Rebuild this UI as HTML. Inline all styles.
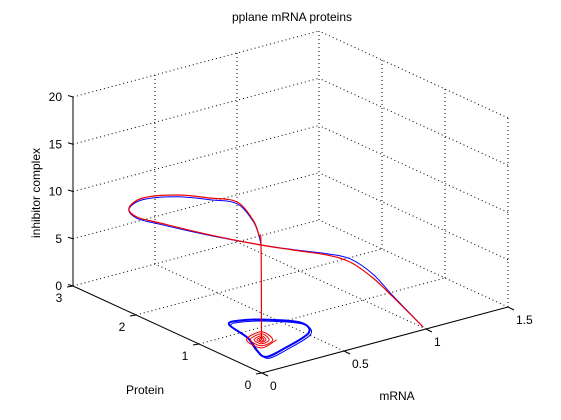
<!DOCTYPE html>
<html><head><meta charset="utf-8"><style>
body{margin:0;background:#fff;}
svg{display:block;font-family:"Liberation Sans",sans-serif;}
</style></head><body>
<svg id="chart" width="561" height="420" viewBox="0 0 561 420">
<rect width="561" height="420" fill="#fff"/>
<g id="grid"></g>
<g id="axes"></g>
<g id="series"></g>
<text x="292" y="21" font-size="12" text-anchor="middle">pplane mRNA proteins</text>
<text transform="translate(40,193) rotate(-90)" font-size="12" text-anchor="middle">inhibitor complex</text>
<text x="145" y="394" font-size="12" text-anchor="middle">Protein</text>
<text x="397" y="400" font-size="12" text-anchor="middle">mRNA</text>
</svg>
<script>
const mTicks=[0,0.5,1,1.5];
const mTickLabels=["0","0.5","1","1.5"];
const pTicks=[0,1,2,3];
const pTickLabels=["0","1","2","3"];
const zTicks=[0,5,10,15,20];
const zTickLabels=["0","5","10","15","20"];
// limit cycle (blue) on floor
const cycleM=[0.278,0.349,0.4725,0.571,0.516,0.300,0.150,0.172,0.239,0.278];
const cycleP=[1.246,1.277,1.122,0.867,0.602,0.411,0.327,0.538,0.853,1.246];
// red spiral on floor
const spiralM=[0.334,0.209,0.218,0.343,0.319,0.226,0.233,0.326,0.305,0.243,0.247,0.310,0.293,0.256,0.259,0.296,0.285,0.266,0.267,0.286,0.276];
const spiralP=[0.638,0.550,0.814,0.902,0.660,0.594,0.792,0.858,0.682,0.638,0.770,0.814,0.699,0.673,0.753,0.779,0.713,0.700,0.739,0.752,0.726];
// main trajectory (red)
const pathM=[0.276,0.273,0.260,0.224,0.126,-0.040,-0.240,-0.447,-0.532,-0.484,-0.343,-0.038,0.273,0.468,0.675,0.815,0.956,1.078,1.261];
const pathZ=[0,10.05,11.16,12.92,15.29,16.48,17.73,18.37,17.71,16.53,15.24,12.56,10.05,8.61,7.12,5.72,3.37,0.79,-3.23];
const pathP=0.726;
// blue trajectory (slightly different)
const bluePathZ=[0,10.05,11.1,12.8,15.1,16.3,17.55,18.2,17.6,16.4,15.1,12.5,10.05,8.65,7.25,6.07,3.77,0.9,-3.23];

const NS="http://www.w3.org/2000/svg";
function X(m,p,z){return 262+m*164-p*63;}
function Y(m,p,z){return 373-m*44-p*29-z*9.45;}
function mk(tag,attrs,parent){const e=document.createElementNS(NS,tag);for(const k in attrs)e.setAttribute(k,attrs[k]);parent.appendChild(e);return e;}
const grid=document.getElementById('grid'),axes=document.getElementById('axes'),series=document.getElementById('series');
function ln(a,b,parent,dotted,name){
 const e=mk('line',{x1:X(...a),y1:Y(...a),x2:X(...b),y2:Y(...b),stroke:'#000','stroke-width':1,'stroke-dasharray':dotted?'1,3':'none'},parent);
 
 
}
const mMax=1.5,pMax=3,zMax=20;
mTicks.forEach(m=>{if(m>0)ln([m,0,0],[m,pMax,0],grid,true,'floor-gridline-m');});
pTicks.forEach(p=>{if(p>0)ln([0,p,0],[mMax,p,0],grid,true,'floor-gridline-p');});
mTicks.forEach(m=>{if(m>0)ln([m,pMax,0],[m,pMax,zMax],grid,true,'back-wall-vertical');});
zTicks.forEach(z=>{if(z>0)ln([0,pMax,z],[mMax,pMax,z],grid,true,'back-wall-horizontal');});
pTicks.forEach(p=>{if(p<pMax)ln([mMax,p,0],[mMax,p,zMax],grid,true,'side-wall-vertical');});
zTicks.forEach(z=>{if(z>0)ln([mMax,0,z],[mMax,pMax,z],grid,true,'side-wall-horizontal');});
ln([0,0,0],[mMax,0,0],axes,false,'mrna-axis');
ln([0,0,0],[0,pMax,0],axes,false,'protein-axis');
ln([0,pMax,0],[0,pMax,zMax],axes,false,'z-axis');
function txt(x,y,s,anchor,name){const t=mk('text',{x:x,y:y,'font-size':12,'text-anchor':anchor},axes);t.textContent=s;
 
 }
mTicks.forEach((m,i)=>{
 const x=X(m,0,0),y=Y(m,0,0);
 mk('line',{x1:x,y1:y,x2:x+6,y2:y+3,stroke:'#000'},axes);
 txt(x+8,y+17,mTickLabels[i],'start','mrna-tick-label');
});
pTicks.forEach((p,i)=>{
 const x=X(0,p,0),y=Y(0,p,0);
 mk('line',{x1:x,y1:y,x2:x-6,y2:y+1,stroke:'#000'},axes);
 txt(x-14,y+16,pTickLabels[i],'middle','protein-tick-label');
});
zTicks.forEach((z,i)=>{
 const x=X(0,pMax,z),y=Y(0,pMax,z);
 mk('line',{x1:x,y1:y,x2:x-5,y2:y-1.5,stroke:'#000'},axes);
 txt(x-11,y+4,zTickLabels[i],'end','z-tick-label');
});
function smooth(pts,closed){
 let d='M'+pts[0][0].toFixed(1)+','+pts[0][1].toFixed(1);
 const n=pts.length;
 for(let i=0;i<n-1;i++){
  const p0=pts[i>0?i-1:(closed?n-2:0)],p1=pts[i],p2=pts[i+1],p3=pts[i+2<n?i+2:(closed?1:n-1)];
  const c1=[p1[0]+(p2[0]-p0[0])/6,p1[1]+(p2[1]-p0[1])/6],c2=[p2[0]-(p3[0]-p1[0])/6,p2[1]-(p3[1]-p1[1])/6];
  d+=' C'+c1[0].toFixed(1)+','+c1[1].toFixed(1)+' '+c2[0].toFixed(1)+','+c2[1].toFixed(1)+' '+p2[0].toFixed(1)+','+p2[1].toFixed(1);
 }
 return d;
}
function drawPath(pts,color,w,closed,name){
 const e=mk('path',{d:smooth(pts,closed),fill:'none',stroke:color,'stroke-width':w,'stroke-linejoin':'round'},series);
 
 
}
const cyc=cycleM.map((m,i)=>[X(m,cycleP[i],0),Y(m,cycleP[i],0)]);
drawPath(cyc,'#0000ff',2,true,'blue-limit-cycle');
drawPath(cyc.map(p=>[p[0]+2,p[1]+1.5]),'#0000ff',1,true,'blue-limit-cycle-inner');
drawPath(pathM.slice(1).map((m,i)=>[X(m,pathP,bluePathZ[i+1]),Y(m,pathP,bluePathZ[i+1])]),'#0000ff',1,false,'blue-trajectory');
drawPath(pathM.map((m,i)=>[X(m,pathP,pathZ[i]),Y(m,pathP,pathZ[i])]),'#ee0000',1.2,false,'red-trajectory');
drawPath(spiralM.map((m,i)=>[X(m,spiralP[i],0),Y(m,spiralP[i],0)]),'#ee0000',1,false,'red-spiral');
</script>
</body></html>
